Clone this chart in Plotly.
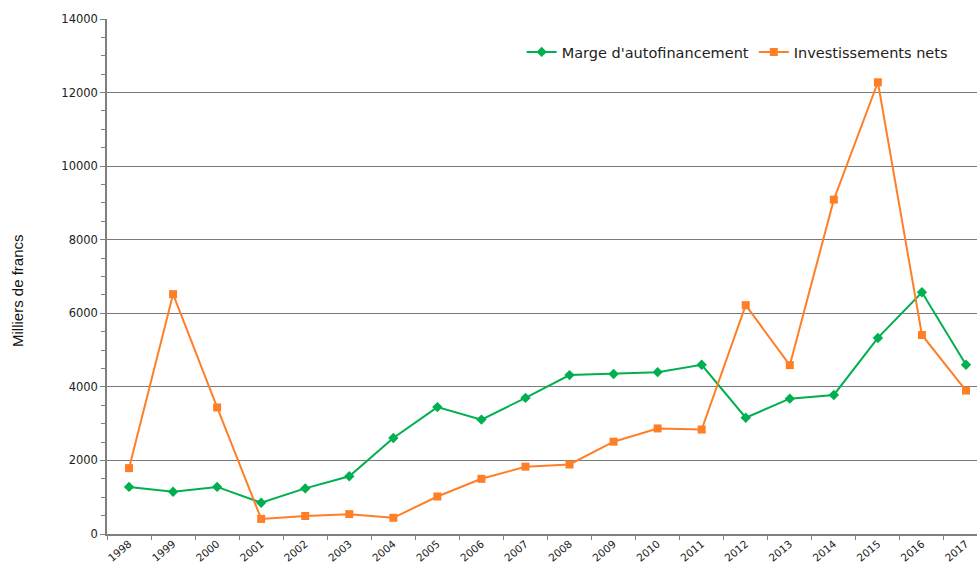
import plotly.graph_objects as go

years = [str(y) for y in range(1998, 2018)]
marge = [1280, 1150, 1280, 850, 1240, 1570, 2610, 3450, 3110, 3700,
         4320, 4350, 4400, 4600, 3160, 3680, 3780, 5330, 6570, 4600]
invest = [1790, 6520, 3440, 410, 490, 540, 440, 1020, 1500, 1830,
          1890, 2510, 2870, 2840, 6220, 4590, 9090, 12280, 5410, 3900]
y_title = "Milliers de francs"

GREEN = "#00B050"
ORANGE = "#FF7F27"
FONT = "DejaVu Sans"

fig = go.Figure()
fig.add_trace(go.Scatter(x=years, y=marge, name="Marge d'autofinancement",
                         mode="lines+markers",
                         line=dict(color=GREEN, width=2),
                         marker=dict(symbol="diamond", size=8, color=GREEN)))
fig.add_trace(go.Scatter(x=years, y=invest, name="Investissements nets",
                         mode="lines+markers",
                         line=dict(color=ORANGE, width=2),
                         marker=dict(symbol="square", size=8, color=ORANGE)))

fig.update_layout(
    width=977, height=564,
    margin=dict(l=107, r=0, t=19, b=30),
    paper_bgcolor="white", plot_bgcolor="white",
    font=dict(family=FONT, size=11, color="#222"),
    legend=dict(orientation="h", x=0.972, xanchor="right", y=0.936, yanchor="middle",
                font=dict(size=14.5, family=FONT), bgcolor="rgba(0,0,0,0)",
                itemwidth=30, tracegroupgap=0),
    showlegend=True,
)
fig.add_annotation(text=y_title, textangle=-90, xref="paper", yref="paper",
                   x=-(107 - 18) / 870, y=(534 - 291) / 515,
                   xanchor="center", yanchor="middle", showarrow=False,
                   font=dict(size=15, family="Liberation Sans", color="#111"))
fig.update_xaxes(
    type="category", range=[-0.5, 19.25], automargin=False,
    showline=True, linecolor="#808080", linewidth=1.5,
    ticks="outside", tickson="boundaries", ticklen=4, tickcolor="#808080",
    tickangle=-40, tickfont=dict(size=10.5, family=FONT),
    ticklabelstandoff=-2,
    showgrid=False,
)
fig.update_yaxes(
    range=[0, 14000], dtick=2000, tickformat="d", automargin=False,
    showline=True, linecolor="#808080", linewidth=1.5,
    ticks="outside", ticklen=5, tickcolor="#808080",
    minor=dict(dtick=500, ticks="outside", ticklen=4, tickcolor="#808080", showgrid=False),
    showgrid=True, gridcolor="#7a7a7a", gridwidth=1.2,
    zeroline=False,
    tickfont=dict(size=11.5, family=FONT),
)

fig.write_html("out.html", config={"displayModeBar": False},
               post_script="document.body.style.margin='0';document.documentElement.style.overflow='hidden';")
